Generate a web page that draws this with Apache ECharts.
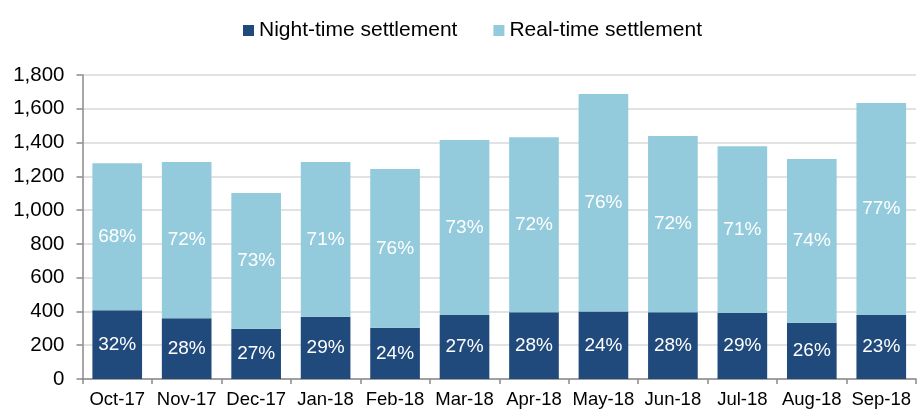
<!DOCTYPE html>
<html>
<head>
<meta charset="utf-8">
<script src="https://cdn.jsdelivr.net/npm/echarts@6/dist/echarts.min.js"></script>
<style>html,body{margin:0;padding:0;background:#fff;}#c{width:917px;height:410px;}</style>
</head>
<body>
<div id="c"></div>
<script>
var categories = ['Oct-17','Nov-17','Dec-17','Jan-18','Feb-18','Mar-18','Apr-18','May-18','Jun-18','Jul-18','Aug-18','Sep-18'];
var nightValues = [407, 359, 298, 369, 304, 379, 395, 399, 395, 393, 333, 379];
var realValues  = [870, 926, 803, 916, 939, 1036, 1036, 1288, 1044, 985, 970, 1255];
var nightPct = ['32%','28%','27%','29%','24%','27%','28%','24%','28%','29%','26%','23%'];
var realPct  = ['68%','72%','73%','71%','76%','73%','72%','76%','72%','71%','74%','77%'];
var yTicks = [0,200,400,600,800,1000,1200,1400,1600,1800];

var FONT = '"Liberation Sans", Arial, sans-serif';
var chart = echarts.init(document.getElementById('c'), null, {renderer:'canvas'});
chart.setOption({
  animation: false,
  textStyle: {fontFamily: FONT},
  legend: {
    left: 238, top: 15,
    itemWidth: 11, itemHeight: 11, itemGap: 36,
    icon: 'rect',
    textStyle: {fontFamily: FONT, fontSize: 21, color: '#000'},
    data: ['Night-time settlement','Real-time settlement']
  },
  grid: {left: 82.5, right: 1, top: 75, bottom: 31, containLabel: false},
  xAxis: {
    type: 'category',
    data: categories,
    axisLine: {lineStyle: {color: '#8a8a8a', width: 1.5}},
    axisTick: {show: true, length: 5, lineStyle: {color: '#8a8a8a', width: 1.5}},
    axisLabel: {color: '#000', fontSize: 18.5, fontFamily: FONT, margin: 11, interval: 0}
  },
  yAxis: {
    type: 'value',
    min: yTicks[0], max: yTicks[yTicks.length-1], interval: 200,
    axisLine: {show: true, lineStyle: {color: '#8a8a8a', width: 1.5}},
    axisTick: {show: true, length: 6, lineStyle: {color: '#8a8a8a', width: 1.5}},
    splitLine: {lineStyle: {color: '#d9d9d9', width: 1.5}},
    axisLabel: {color: '#000', fontSize: 20.5, fontFamily: FONT, margin: 18,
      formatter: function(v){ return v.toLocaleString('en-US'); }}
  },
  series: [
    {
      name: 'Night-time settlement', type: 'bar', stack: 'total', barWidth: '71.5%',
      data: nightValues,
      itemStyle: {color: '#214a7c'},
      label: {show: true, position: 'inside', color: '#fff', fontSize: 19, fontFamily: FONT,
        formatter: function(p){ return nightPct[p.dataIndex]; }}
    },
    {
      name: 'Real-time settlement', type: 'bar', stack: 'total', barWidth: '71.5%',
      data: realValues,
      itemStyle: {color: '#94cbdc'},
      label: {show: true, position: 'inside', color: '#fff', fontSize: 19, fontFamily: FONT,
        formatter: function(p){ return realPct[p.dataIndex]; }}
    }
  ]
});
</script>
</body>
</html>
